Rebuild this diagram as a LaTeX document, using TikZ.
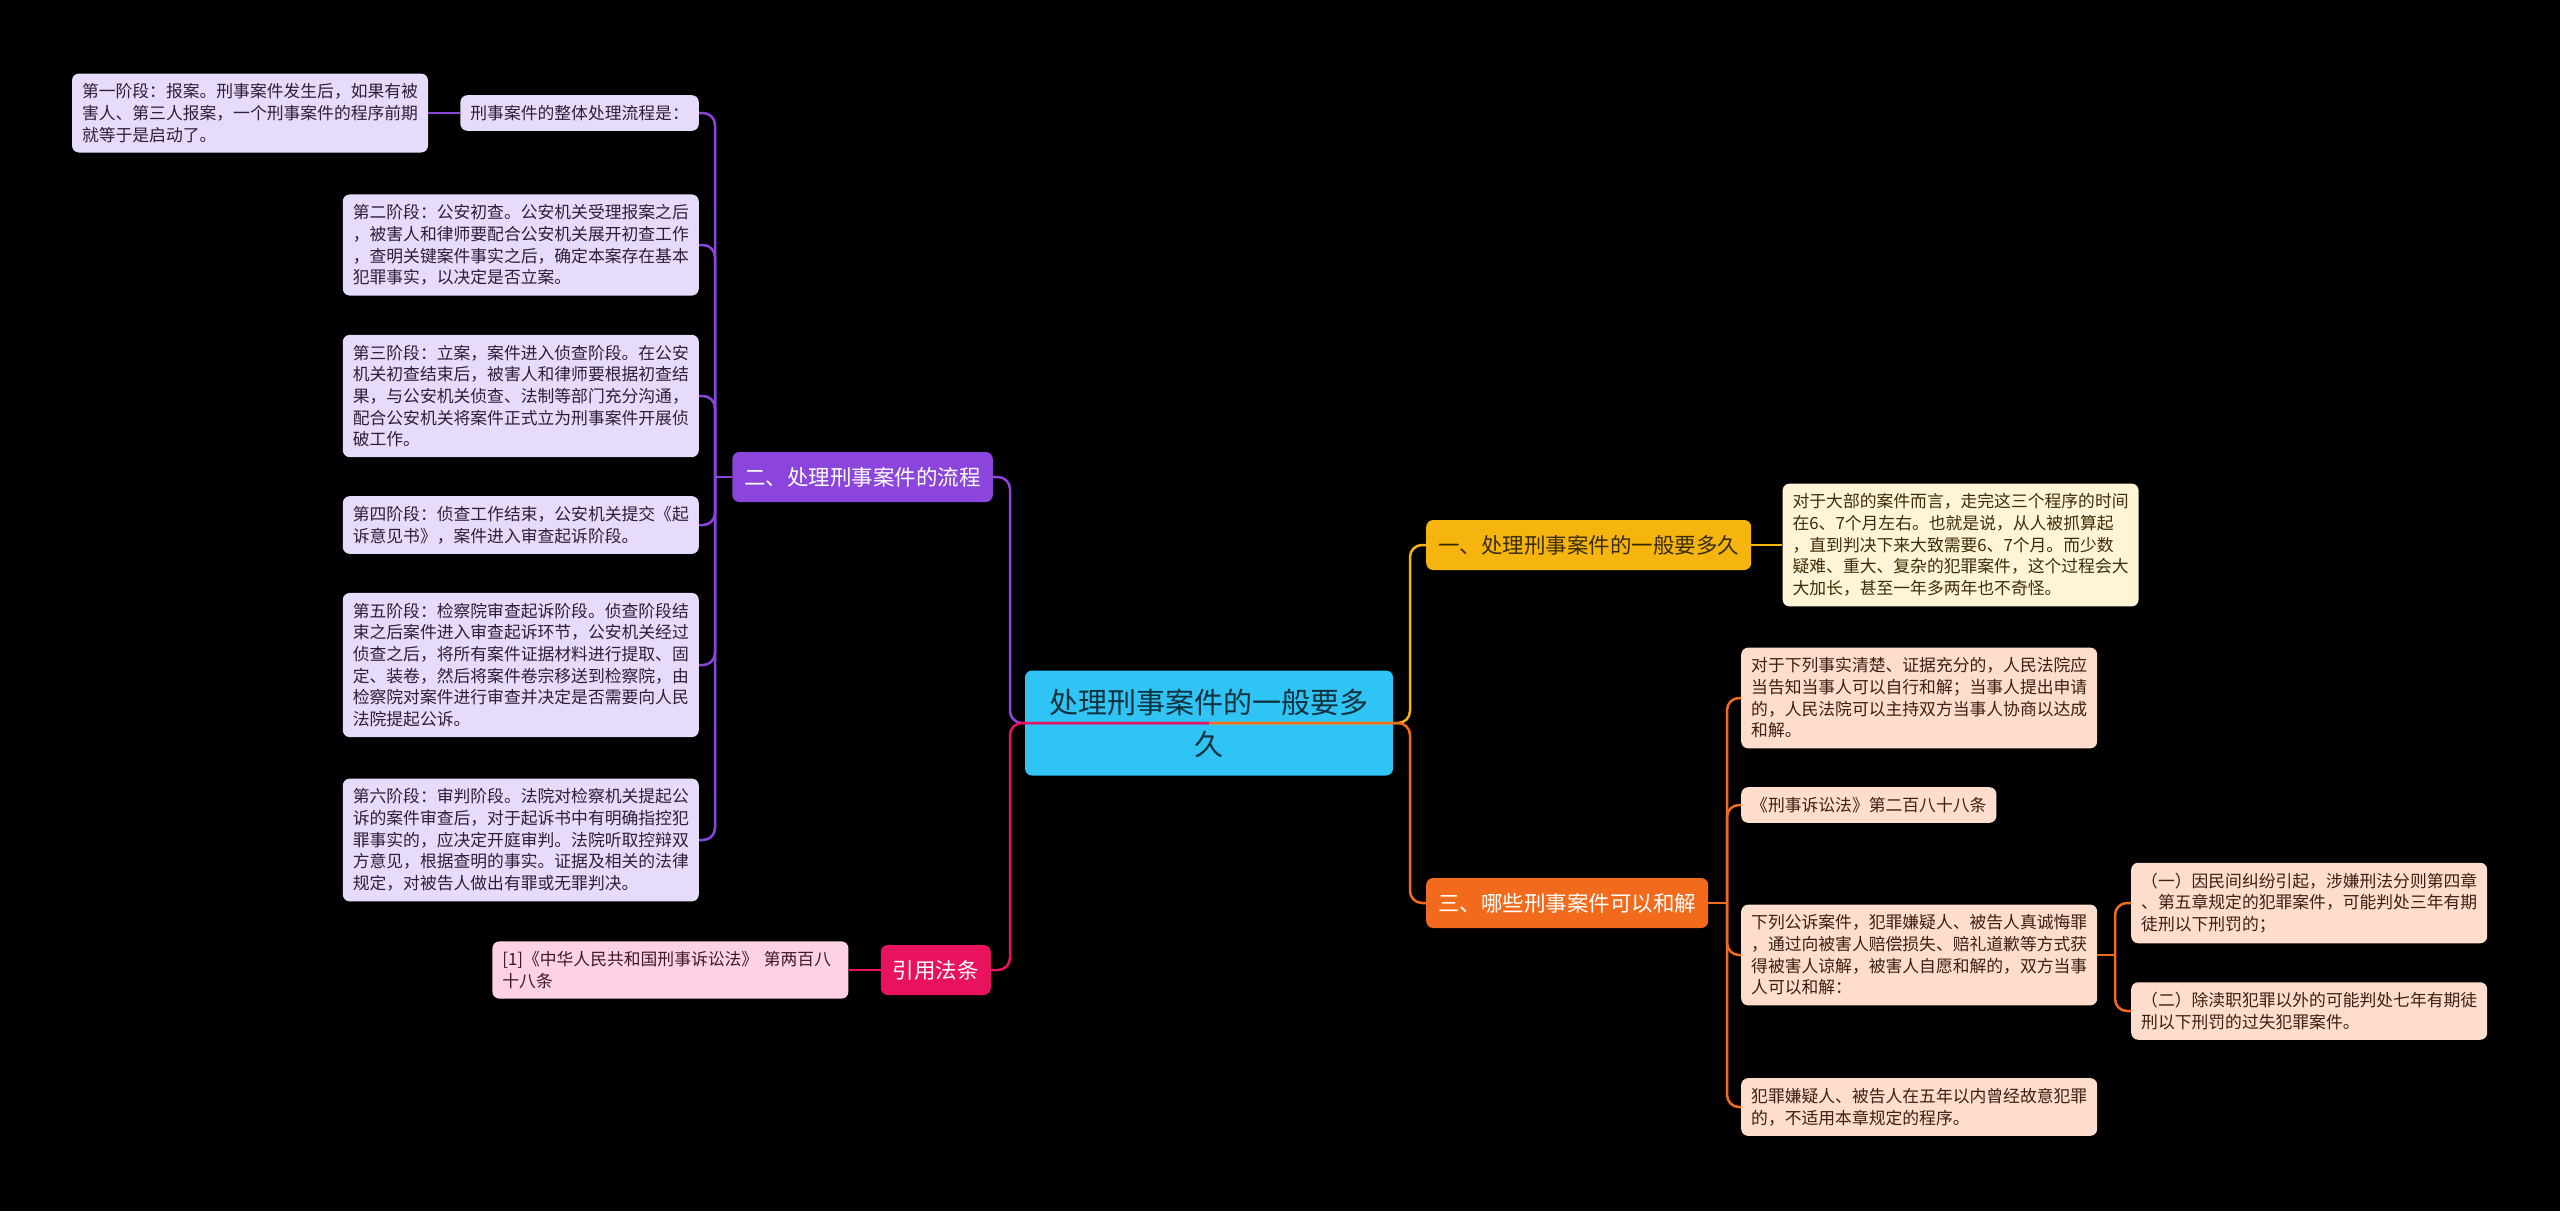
\documentclass[tikz,border=0pt]{standalone}
\usepackage{fontspec}
\newfontfamily\cjk{Noto Sans CJK SC}
\usetikzlibrary{positioning}

\definecolor{rootblue}{HTML}{2FC4F3}
\definecolor{roottext}{HTML}{10323F}
\definecolor{purp}{HTML}{8B45DD}
\definecolor{purpleaf}{HTML}{E6DBFA}
\definecolor{purptext}{HTML}{2B1F3A}
\definecolor{pinkc}{HTML}{E8125F}
\definecolor{pinkleaf}{HTML}{FFD1E5}
\definecolor{pinktext}{HTML}{3A1A28}
\definecolor{yel}{HTML}{F5B50E}
\definecolor{yelleaf}{HTML}{FFF4D6}
\definecolor{yeltext}{HTML}{3A2D0A}
\definecolor{ora}{HTML}{F26A1B}
\definecolor{oraleaf}{HTML}{FFDDCC}
\definecolor{oratext}{HTML}{3A2010}

\tikzset{
  leaf/.style={rectangle, rounded corners=7pt, text width=336pt, align=left,
    inner xsep=10pt, inner ysep=10pt, font=\cjk\fontsize{16.8}{21.7}\selectfont},
  branch/.style={rectangle, rounded corners=7pt, minimum height=50pt,
    inner xsep=12pt, inner ysep=0pt, font=\cjk\fontsize{21.5}{26}\selectfont},
  link/.style={line width=2.5pt, rounded corners=12pt},
}

\begin{document}
\begin{tikzpicture}[x=1pt,y=-1pt]
    % canvas in pixels of the reference
    \fill[black] (0,0) rectangle (2560,1211);
    \useasboundingbox (0,0) rectangle (2560,1211);

    % centre topic
    \node[rectangle, rounded corners=7pt, fill=rootblue, text=roottext,
      minimum width=368pt, minimum height=105pt, text width=320pt, align=center,
      font=\cjk\fontsize{29}{42}\selectfont] (root) at (1209,723)
      {处理刑事案件的一般要多\\久};

    % main branches
    \node[branch, fill=purp, text=white, anchor=east] (b2) at (993,477) {二、处理刑事案件的流程};
    \node[branch, fill=pinkc, text=white, anchor=east] (b4) at (991,970) {引用法条};
    \node[branch, fill=yel, text=yeltext, anchor=west] (b1) at (1426,545) {一、处理刑事案件的一般要多久};
    \node[branch, fill=ora, text=white, anchor=west] (b3) at (1426,903) {三、哪些刑事案件可以和解};

    % procedure stages
    \node[leaf, fill=purpleaf, text=purptext, text width=, anchor=east] (l0) at (699,113) {刑事案件的整体处理流程是：};
    \node[leaf, fill=purpleaf, text=purptext, left=32pt of l0] (l1)
      {第一阶段：报案。刑事案件发生后，如果有被\\害人、第三人报案，一个刑事案件的程序前期\\就等于是启动了。};
    \node[leaf, fill=purpleaf, text=purptext, anchor=east] (s2) at (699,245)
      {第二阶段：公安初查。公安机关受理报案之后\\，被害人和律师要配合公安机关展开初查工作\\，查明关键案件事实之后，确定本案存在基本\\犯罪事实，以决定是否立案。};
    \node[leaf, fill=purpleaf, text=purptext, anchor=east] (s3) at (699,396)
      {第三阶段：立案，案件进入侦查阶段。在公安\\机关初查结束后，被害人和律师要根据初查结\\果，与公安机关侦查、法制等部门充分沟通，\\配合公安机关将案件正式立为刑事案件开展侦\\破工作。};
    \node[leaf, fill=purpleaf, text=purptext, anchor=east] (s4) at (699,525)
      {第四阶段：侦查工作结束，公安机关提交《起\\诉意见书》，案件进入审查起诉阶段。};
    \node[leaf, fill=purpleaf, text=purptext, anchor=east] (s5) at (699,665)
      {第五阶段：检察院审查起诉阶段。侦查阶段结\\束之后案件进入审查起诉环节，公安机关经过\\侦查之后，将所有案件证据材料进行提取、固\\定、装卷，然后将案件卷宗移送到检察院，由\\检察院对案件进行审查并决定是否需要向人民\\法院提起公诉。};
    \node[leaf, fill=purpleaf, text=purptext, anchor=east] (s6) at (699,840)
      {第六阶段：审判阶段。法院对检察机关提起公\\诉的案件审查后，对于起诉书中有明确指控犯\\罪事实的，应决定开庭审判。法院听取控辩双\\方意见，根据查明的事实。证据及相关的法律\\规定，对被告人做出有罪或无罪判决。};

    % cited law
    \node[leaf, fill=pinkleaf, text=pinktext, left=32pt of b4] (ref)
      {[1]《中华人民共和国刑事诉讼法》 第两百八\\十八条};

    % duration
    \node[leaf, fill=yelleaf, text=yeltext, right=31pt of b1] (y1)
      {对于大部的案件而言，走完这三个程序的时间\\在6、7个月左右。也就是说，从人被抓算起\\，直到判决下来大致需要6、7个月。而少数\\疑难、重大、复杂的犯罪案件，这个过程会大\\大加长，甚至一年多两年也不奇怪。};

    % settlement
    \node[leaf, fill=oraleaf, text=oratext, anchor=west] (o1) at (1741,698)
      {对于下列事实清楚、证据充分的，人民法院应\\当告知当事人可以自行和解；当事人提出申请\\的，人民法院可以主持双方当事人协商以达成\\和解。};
    \node[leaf, fill=oraleaf, text=oratext, text width=, anchor=west] (o2) at (1741,805)
      {《刑事诉讼法》第二百八十八条};
    \node[leaf, fill=oraleaf, text=oratext, anchor=west] (o3) at (1741,955)
      {下列公诉案件，犯罪嫌疑人、被告人真诚悔罪\\，通过向被害人赔偿损失、赔礼道歉等方式获\\得被害人谅解，被害人自愿和解的，双方当事\\人可以和解：};
    \node[leaf, fill=oraleaf, text=oratext, anchor=west] (o4) at (1741,1107)
      {犯罪嫌疑人、被告人在五年以内曾经故意犯罪\\的，不适用本章规定的程序。};
    \node[leaf, fill=oraleaf, text=oratext, anchor=west] (p1) at (2131,903)
      {（一）因民间纠纷引起，涉嫌刑法分则第四章\\、第五章规定的犯罪案件，可能判处三年有期\\徒刑以下刑罚的；};
    \node[leaf, fill=oraleaf, text=oratext, anchor=west] (p2) at (2131,1011)
      {（二）除渎职犯罪以外的可能判处七年有期徒\\刑以下刑罚的过失犯罪案件。};

    % junctions
    \coordinate (lj) at (1010,723);
    \coordinate (rj) at (1410,723);
    \coordinate (pj) at (715,477);
    \coordinate (oj) at (1727,903);
    \coordinate (sj) at (2115,955);

    % connectors
    \draw[link, purp] (root.center) -- (lj) |- (b2.east);
    \draw[link, pinkc] (root.center) -- (lj) |- (b4.east);
    \draw[link, yel] (root.center) -- (rj) |- (b1.west);
    \draw[link, ora] (root.center) -- (rj) |- (b3.west);

    \draw[link, purp] (b2.west) -- (pj);
    \foreach \n in {l0,s2,s3,s4,s5,s6}
      \draw[link, purp] (pj) |- (\n.east);
    \draw[link, purp] (l0.west) -- (l1.east);

    \draw[link, pinkc] (b4.west) -- (ref.east);
    \draw[link, yel] (b1.east) -- (y1.west);

    \draw[link, ora] (b3.east) -- (oj);
    \foreach \n in {o1,o2,o3,o4}
      \draw[link, ora] (oj) |- (\n.west);
    \draw[link, ora] (o3.east) -- (sj);
    \foreach \n in {p1,p2}
      \draw[link, ora] (sj) |- (\n.west);
\end{tikzpicture}
\end{document}
